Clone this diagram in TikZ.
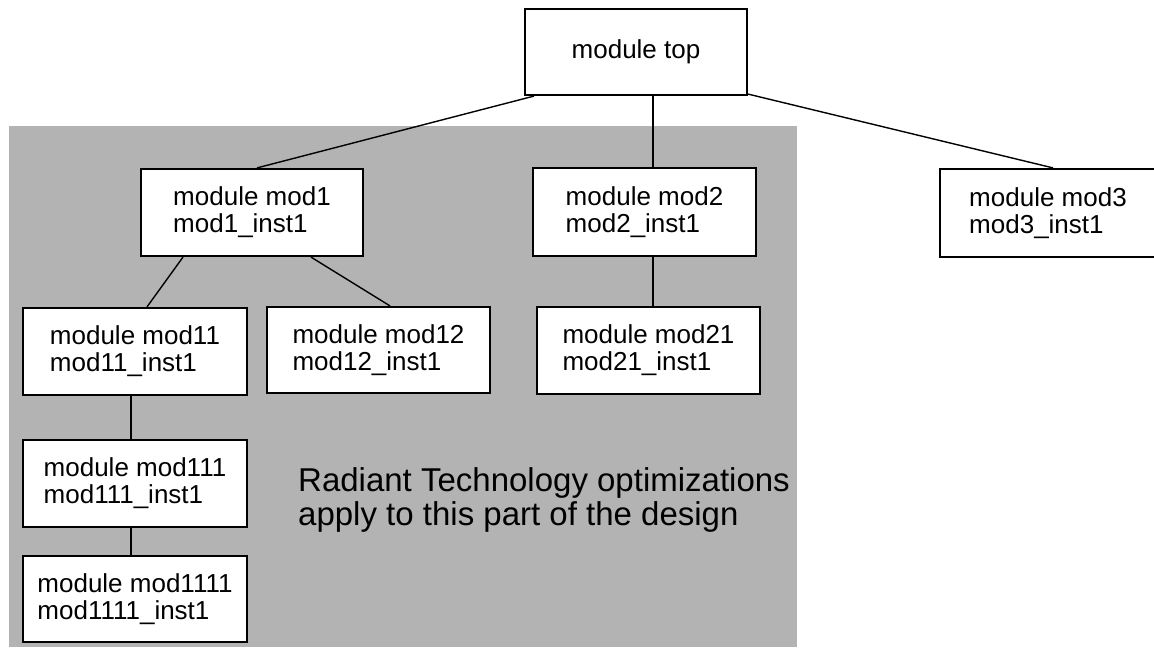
\documentclass[tikz,border=0pt]{standalone}
\usepackage{fontspec}
\setmainfont{Liberation Sans}
\usetikzlibrary{calc}
\definecolor{regiongray}{RGB}{179,179,179}
\tikzset{
  modbox/.style={draw=black, line width=2.2pt, fill=white, align=left,
    inner sep=0pt, font=\fontsize{26}{27}\selectfont},
  link/.style={draw=black, line width=1.4pt},
}
\newcommand{\modnode}[6]{% name, x0, y0, x1, y1, text
  \node[modbox, minimum width={#4-#2}, minimum height={#5-#3}]
    (#1) at ({(#2+#4)/2},{(#3+#5)/2}) {#6};}
\begin{document}
\begin{tikzpicture}[x=1pt, y=-1pt]
  \useasboundingbox (0,0) rectangle (1154,648);
  % region covered by the optimizations
  \fill[regiongray] (9,126) rectangle (797,647);

  \modnode{top}{525}{9}{747}{95}{\raisebox{-3pt}{module top}}
  \modnode{mod1}{141}{169}{363}{256}{module mod1\\mod1\_inst1}
  \modnode{mod2}{533}{168}{756}{256}{module mod2\\mod2\_inst1}
  \modnode{mod3}{940}{169}{1156}{257}{module mod3\\mod3\_inst1}
  \modnode{mod11}{23}{308}{247}{395}{module mod11\\mod11\_inst1}
  \modnode{mod12}{267}{307}{490}{393}{module mod12\\mod12\_inst1}
  \modnode{mod21}{537}{307}{760}{394}{module mod21\\mod21\_inst1}
  \modnode{mod111}{23}{440}{247}{527}{module mod111\\mod111\_inst1}
  \modnode{mod1111}{23}{556}{247}{642}{module mod1111\\mod1111\_inst1}

  \node[anchor=base west, inner sep=0pt, align=left,
    font=\fontsize{33}{34}\selectfont] (note) at (298,525)
    {Radiant Technology optimizations\\apply to this part of the design};

  % hierarchy connectors
  \draw[link] ([xshift=10pt]top.south west) -- ([xshift=5pt]mod1.north);
  \draw[link] (top.south -| mod2.north) ++(8.5,0) coordinate (t2)
    (t2) -- (t2 |- mod2.north);
  \draw[link] ([yshift=2pt]top.south east) -- ([xshift=5pt]mod3.north);
  \draw[link] ([xshift=-69pt]mod1.south) -- ([xshift=12pt]mod11.north);
  \draw[link] ([xshift=59pt]mod1.south) -- ([xshift=11.5pt]mod12.north);
  \draw[link] ([xshift=8.5pt]mod2.south) -- ([xshift=8.5pt]mod2.south |- mod21.north);
  \draw[link] ([xshift=-4pt]mod11.south) -- ([xshift=-4pt]mod111.north);
  \draw[link] ([xshift=-4pt]mod111.south) -- ([xshift=-4pt]mod1111.north);
\end{tikzpicture}
\end{document}
